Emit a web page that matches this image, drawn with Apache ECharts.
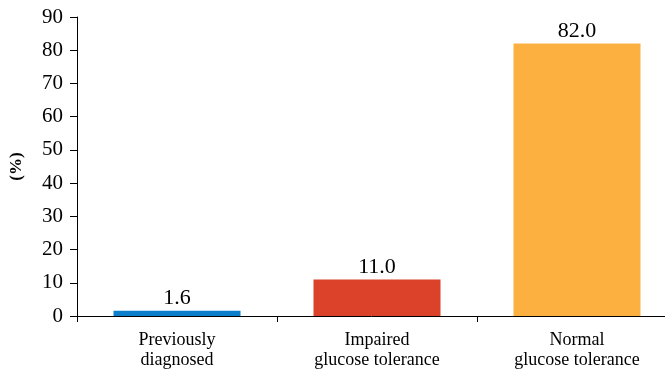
<!DOCTYPE html>
<html><head><meta charset="utf-8">
<script src="https://cdn.jsdelivr.net/npm/echarts@6/dist/echarts.min.js"></script>
<style>html,body{margin:0;padding:0;background:#fff}#c{width:665px;height:374px}</style>
</head><body><div id="c"></div>
<script>
const categories = ["Previously\ndiagnosed", "Impaired\nglucose tolerance", "Normal\nglucose tolerance"];
const values = [1.6, 11.0, 82.0];
const colors = ["#0B7FCB", "#DC4129", "#FBB040"];
const yTicks = { min: 0, max: 90, interval: 10 };
const yTitle = "(%)";

const chart = echarts.init(document.getElementById('c'), null, { renderer: 'canvas' });
const font = "'Liberation Serif', 'DejaVu Serif', serif";
chart.setOption({
  animation: false,
  textStyle: { fontFamily: font },
  grid: { left: 77, top: 17, width: 600, height: 299, containLabel: false, outerBoundsMode: 'none' },
  xAxis: {
    type: 'category',
    data: categories,
    axisLine: { lineStyle: { color: '#000', width: 1 } },
    axisTick: { show: true, length: 6, lineStyle: { color: '#000' }, alignWithLabel: false },
    axisLabel: { color: '#000', fontSize: 18, fontFamily: font, lineHeight: 20, margin: 14 }
  },
  yAxis: {
    type: 'value',
    min: yTicks.min, max: yTicks.max, interval: yTicks.interval,
    name: yTitle,
    nameLocation: 'middle',
    nameGap: 52,
    nameRotate: 90,
    nameTextStyle: { color: '#000', fontSize: 17, fontFamily: font, fontWeight: 'bold' },
    axisLine: { show: true, lineStyle: { color: '#000', width: 1 } },
    axisTick: { show: true, length: 7, lineStyle: { color: '#000' } },
    splitLine: { show: false },
    axisLabel: { color: '#000', fontSize: 21, fontFamily: font, margin: 14 }
  },
  series: [{
    type: 'bar',
    barWidth: '63.5%',
    data: values.map((v, i) => ({ value: v, itemStyle: { color: colors[i] } })),
    label: {
      show: true, position: 'top', distance: 1,
      color: '#000', fontSize: 22, fontFamily: font,
      formatter: p => p.value.toFixed(1)
    }
  }]
});
</script></body></html>
